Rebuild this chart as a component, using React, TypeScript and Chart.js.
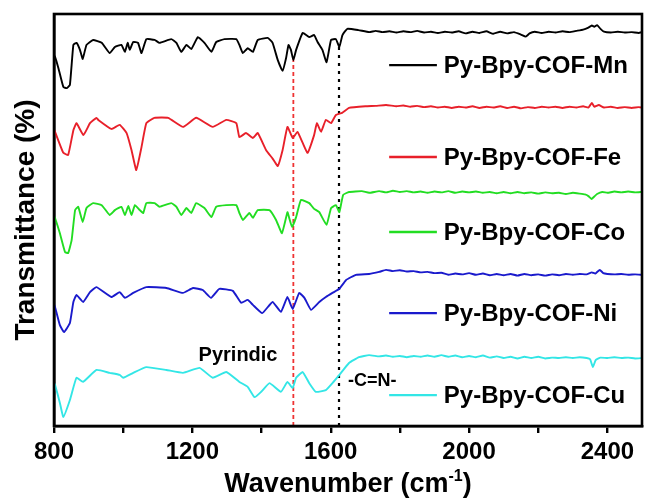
import { useEffect, useRef } from "react";
import { Chart, registerables } from "chart.js";

Chart.register(...registerables);

type Pt = [number, number];

// FTIR spectra (wavenumber in cm-1, vertically offset transmittance)
const mnSpectrum: Pt[] = [
  [800, 90.0], [803, 89.6], [812, 87.1], [827, 82.3], [837, 82.0], [846, 82.8], [856, 92.5],
  [865, 93.0], [875, 91.3], [883, 89.1], [894, 92.5], [913, 93.7], [938, 93.0], [961, 90.5],
  [976, 92.0], [995, 92.5], [1005, 90.8], [1013, 93.0], [1019, 91.3], [1029, 93.2], [1043, 93.0],
  [1053, 90.5], [1067, 93.9], [1091, 93.7], [1105, 93.0], [1139, 93.9], [1154, 93.0], [1168, 90.8],
  [1183, 92.5], [1197, 91.5], [1216, 94.4], [1235, 93.0], [1255, 90.8], [1269, 93.2], [1293, 93.9],
  [1327, 93.9], [1336, 92.5], [1346, 90.5], [1360, 91.7], [1375, 90.8], [1389, 93.7], [1418, 94.2],
  [1432, 93.0], [1447, 88.8], [1461, 86.2], [1471, 89.3], [1478, 92.5], [1485, 91.3], [1492, 88.8],
  [1500, 91.3], [1519, 95.4], [1538, 94.4], [1552, 94.9], [1562, 93.2], [1576, 91.3], [1588, 88.3],
  [1601, 93.7], [1615, 93.9], [1625, 92.0], [1634, 94.9], [1648, 96.4], [1680, 96.1], [1711, 95.6],
  [1730, 95.9], [1750, 95.6], [1770, 95.8], [1790, 95.5], [1810, 95.8], [1830, 95.6], [1850, 95.9],
  [1870, 95.5], [1890, 95.7], [1910, 95.4], [1930, 95.7], [1950, 95.5], [1970, 95.8], [1990, 95.3],
  [2010, 95.7], [2030, 95.4], [2050, 95.8], [2070, 95.2], [2090, 95.7], [2110, 95.3], [2130, 95.6],
  [2150, 95.0], [2164, 94.5], [2175, 95.3], [2190, 95.7], [2210, 95.4], [2230, 95.7], [2250, 95.5],
  [2270, 95.8], [2290, 95.6], [2310, 95.9], [2330, 96.2], [2345, 96.7], [2355, 97.2], [2362, 96.9],
  [2370, 97.3], [2380, 96.4], [2390, 95.7], [2410, 95.5], [2430, 95.7], [2450, 95.5], [2470, 95.6],
  [2490, 95.4], [2500, 95.6],
];

const feSpectrum: Pt[] = [
  [800, 72.0], [803, 71.4], [827, 66.3], [841, 65.8], [856, 71.8], [865, 73.5], [885, 70.6],
  [904, 73.5], [923, 74.8], [928, 74.3], [966, 72.1], [990, 73.1], [1010, 71.1], [1024, 67.0],
  [1038, 62.1], [1053, 67.7], [1067, 73.5], [1090, 74.8], [1130, 74.8], [1173, 72.6], [1211, 74.8],
  [1259, 72.6], [1298, 74.3], [1327, 73.5], [1336, 70.1], [1355, 71.1], [1375, 69.9], [1389, 71.1],
  [1413, 67.0], [1432, 64.9], [1447, 63.1], [1461, 67.0], [1475, 72.6], [1490, 69.9], [1504, 71.4],
  [1519, 68.7], [1533, 66.3], [1552, 70.6], [1560, 73.5], [1572, 71.4], [1586, 74.3], [1601, 73.5],
  [1615, 75.5], [1633, 76.0], [1653, 77.2], [1700, 77.6], [1730, 77.7], [1760, 77.9], [1790, 77.6],
  [1810, 77.8], [1830, 77.5], [1850, 77.7], [1870, 77.4], [1890, 77.6], [1910, 77.3], [1930, 77.5],
  [1950, 77.2], [1970, 77.5], [1990, 77.3], [2010, 77.6], [2030, 77.2], [2050, 77.5], [2070, 77.3],
  [2090, 77.6], [2110, 77.2], [2130, 77.5], [2150, 77.1], [2170, 77.4], [2190, 77.2], [2210, 77.5],
  [2230, 77.3], [2250, 77.5], [2270, 77.2], [2290, 77.5], [2310, 77.3], [2330, 77.6], [2345, 77.3],
  [2355, 78.4], [2362, 77.5], [2375, 77.9], [2390, 77.3], [2410, 77.5], [2430, 77.2], [2450, 77.4],
  [2470, 77.2], [2490, 77.4], [2500, 77.3],
];

const coSpectrum: Pt[] = [
  [800, 51.0], [803, 50.5], [817, 46.8], [832, 42.2], [841, 42.0], [851, 45.1], [861, 52.4],
  [870, 53.2], [883, 49.5], [894, 52.9], [913, 54.1], [938, 53.6], [961, 51.2], [976, 52.4],
  [995, 53.2], [1005, 51.2], [1015, 53.4], [1024, 51.2], [1034, 53.6], [1048, 52.4], [1058, 51.7],
  [1067, 54.1], [1091, 54.1], [1105, 53.2], [1139, 54.1], [1154, 53.2], [1168, 51.2], [1183, 52.9],
  [1197, 51.7], [1211, 54.1], [1235, 52.9], [1255, 50.7], [1269, 53.2], [1298, 53.6], [1327, 53.6],
  [1336, 51.7], [1346, 50.0], [1365, 51.7], [1375, 50.5], [1389, 52.4], [1423, 52.4], [1442, 50.0],
  [1459, 46.8], [1475, 51.9], [1480, 50.5], [1488, 48.3], [1500, 50.7], [1514, 54.9], [1538, 54.1],
  [1552, 52.7], [1567, 51.9], [1588, 48.8], [1601, 52.9], [1615, 53.6], [1625, 51.9], [1636, 56.1],
  [1653, 56.8], [1690, 57.0], [1711, 56.6], [1740, 57.0], [1760, 56.7], [1780, 57.1], [1800, 56.8],
  [1820, 57.0], [1840, 56.7], [1860, 56.9], [1880, 56.6], [1900, 56.9], [1920, 56.7], [1940, 57.0],
  [1960, 56.6], [1980, 56.9], [2000, 56.7], [2020, 56.9], [2040, 56.6], [2060, 56.8], [2080, 56.5],
  [2100, 56.8], [2120, 56.5], [2140, 56.8], [2160, 56.5], [2180, 56.7], [2200, 56.4], [2220, 56.7],
  [2240, 56.5], [2260, 56.6], [2280, 56.3], [2300, 56.6], [2320, 56.4], [2335, 56.2], [2345, 55.8],
  [2354, 55.1], [2362, 55.7], [2370, 56.3], [2385, 56.8], [2400, 56.6], [2420, 56.9], [2440, 56.7],
  [2460, 56.9], [2480, 56.7], [2500, 56.8],
];

const niSpectrum: Pt[] = [
  [800, 29.5], [803, 28.9], [817, 24.5], [829, 22.8], [846, 25.0], [856, 30.1], [865, 31.8],
  [884, 30.1], [904, 32.5], [923, 33.7], [966, 31.3], [990, 32.5], [1005, 31.1], [1029, 32.3],
  [1067, 33.7], [1125, 33.5], [1173, 32.3], [1202, 33.5], [1230, 33.0], [1254, 31.1], [1278, 33.3],
  [1317, 32.8], [1341, 29.9], [1360, 30.6], [1375, 29.4], [1402, 27.4], [1432, 30.1], [1456, 27.7],
  [1475, 31.3], [1490, 28.4], [1509, 32.3], [1524, 31.1], [1543, 28.2], [1567, 30.1], [1586, 31.3],
  [1605, 32.3], [1625, 33.3], [1644, 35.4], [1673, 36.7], [1711, 36.9], [1740, 37.4], [1760, 37.9],
  [1780, 37.6], [1800, 37.8], [1820, 37.5], [1840, 37.6], [1860, 37.3], [1880, 37.4], [1900, 37.1],
  [1920, 37.2], [1940, 36.7], [1960, 37.0], [1980, 36.8], [2000, 37.1], [2020, 36.7], [2040, 37.0],
  [2060, 36.6], [2080, 36.9], [2100, 36.6], [2120, 36.9], [2140, 36.5], [2160, 36.9], [2180, 36.6],
  [2200, 36.8], [2220, 36.5], [2240, 36.8], [2260, 36.6], [2280, 36.9], [2300, 36.7], [2320, 36.9],
  [2340, 36.8], [2355, 37.3], [2365, 37.0], [2378, 37.9], [2388, 37.1], [2400, 36.9], [2420, 36.8],
  [2440, 36.9], [2460, 36.7], [2480, 36.8], [2500, 36.7],
];

const cuSpectrum: Pt[] = [
  [800, 10.5], [803, 10.0], [817, 5.6], [827, 2.2], [846, 6.3], [865, 11.7], [884, 10.7],
  [923, 13.6], [961, 12.9], [990, 12.4], [1000, 11.7], [1029, 12.9], [1067, 14.3], [1125, 13.6],
  [1173, 12.9], [1221, 14.1], [1259, 11.7], [1298, 13.1], [1336, 10.7], [1360, 9.5], [1380, 7.0],
  [1399, 8.3], [1423, 10.4], [1456, 8.3], [1475, 10.7], [1490, 9.2], [1500, 11.7], [1519, 13.1],
  [1538, 10.4], [1557, 8.3], [1586, 8.7], [1605, 10.4], [1625, 12.4], [1653, 15.3], [1682, 16.7],
  [1711, 17.2], [1740, 16.9], [1760, 17.1], [1780, 16.8], [1800, 17.0], [1820, 16.7], [1840, 17.0],
  [1860, 16.8], [1880, 17.1], [1900, 16.8], [1920, 17.2], [1940, 16.8], [1960, 17.1], [1980, 16.7],
  [2000, 17.0], [2020, 16.7], [2040, 17.1], [2060, 16.6], [2080, 16.9], [2100, 16.5], [2120, 16.8],
  [2140, 16.4], [2160, 16.8], [2180, 16.5], [2200, 16.8], [2220, 16.4], [2240, 16.6], [2260, 16.5],
  [2280, 16.7], [2300, 16.5], [2320, 16.7], [2340, 16.5], [2350, 16.2], [2358, 14.3], [2366, 16.0],
  [2380, 16.6], [2400, 16.5], [2420, 16.7], [2440, 16.5], [2460, 16.6], [2480, 16.4], [2500, 16.5],
];

const seriesNames = ["Py-Bpy-COF-Mn", "Py-Bpy-COF-Fe", "Py-Bpy-COF-Co", "Py-Bpy-COF-Ni", "Py-Bpy-COF-Cu"];
const seriesData = [mnSpectrum, feSpectrum, coSpectrum, niSpectrum, cuSpectrum];
const seriesColors = ["#000000", "#e8202a", "#22dd22", "#1a1acc", "#33e6e6"];

// legend rows sit at these transmittance levels, between the traces
const legendLevels = [87.6, 65.3, 47.1, 27.4, 7.5];
const legendLineFrom = 1769;
const legendLineTo = 1907;
const legendTextAt = 1927;

// band markers: pyridine ring and imine stretch
const pyridineBand = 1492;
const imineBand = 1624;
const pyridineTop = 89.3;
const imineTop = 92.0;

const bandLabels = [
  { text: "Pyrindic", x: 1218, y: 17.2, size: 20 },
  { text: "-C=N-", x: 1650, y: 10.9, size: 18 },
];

const xMin = 800;
const xMax = 2500;
const labelledTicks = [800, 1200, 1600, 2000, 2400];

const FONT = '"Liberation Sans", Arial, sans-serif';

const framePlugin = {
  id: "frameAndText",
  afterDatasetsDraw(chart: any) {
    const { ctx, chartArea, scales } = chart;
    const xs = scales.x;
    const ys = scales.y;
    ctx.save();

    // legend rows
    seriesNames.forEach((name, i) => {
      const y = ys.getPixelForValue(legendLevels[i]);
      ctx.strokeStyle = seriesColors[i];
      ctx.lineWidth = 2.4;
      ctx.beginPath();
      ctx.moveTo(xs.getPixelForValue(legendLineFrom), y);
      ctx.lineTo(xs.getPixelForValue(legendLineTo), y);
      ctx.stroke();
      ctx.fillStyle = "#000";
      ctx.font = `bold 24px ${FONT}`;
      ctx.textAlign = "left";
      ctx.textBaseline = "middle";
      ctx.fillText(name, xs.getPixelForValue(legendTextAt), y + 1);
    });

    // band annotations
    bandLabels.forEach((b) => {
      ctx.fillStyle = "#000";
      ctx.font = `bold ${b.size}px ${FONT}`;
      ctx.textAlign = "left";
      ctx.textBaseline = "middle";
      ctx.fillText(b.text, xs.getPixelForValue(b.x), ys.getPixelForValue(b.y));
    });

    // frame
    ctx.strokeStyle = "#000";
    ctx.lineWidth = 2.6;
    ctx.strokeRect(chartArea.left, chartArea.top, chartArea.right - chartArea.left, chartArea.bottom - chartArea.top);

    // axis titles
    ctx.fillStyle = "#000";
    const mainFont = `bold 27px ${FONT}`;
    const supFont = `bold 16px ${FONT}`;
    const parts = [
      { t: "Wavenumber (cm", f: mainFont, dy: 0 },
      { t: "-1", f: supFont, dy: -11 },
      { t: ")", f: mainFont, dy: 0 },
    ];
    let total = 0;
    parts.forEach((p) => {
      ctx.font = p.f;
      total += ctx.measureText(p.t).width;
    });
    let cx = (chartArea.left + chartArea.right) / 2 - total / 2;
    const baseY = 492;
    ctx.textAlign = "left";
    ctx.textBaseline = "alphabetic";
    parts.forEach((p) => {
      ctx.font = p.f;
      ctx.fillText(p.t, cx, baseY + p.dy);
      cx += ctx.measureText(p.t).width;
    });

    ctx.translate(26, (chartArea.top + chartArea.bottom) / 2);
    ctx.rotate(-Math.PI / 2);
    ctx.font = `bold 28px ${FONT}`;
    ctx.textAlign = "center";
    ctx.textBaseline = "middle";
    ctx.fillText("Transmittance (%)", 0, 0);
    ctx.restore();
  },
};

export default function App() {
  const canvasRef = useRef<HTMLCanvasElement | null>(null);

  useEffect(() => {
    const canvas = canvasRef.current;
    if (!canvas) return;

    const spectra = seriesData.map((pts, i) => ({
      label: seriesNames[i],
      data: pts.map(([x, y]) => ({ x, y })),
      borderColor: seriesColors[i],
      borderWidth: 1.9,
      pointRadius: 0,
      tension: 0.12,
      fill: false,
    }));

    const markers = [
      {
        label: "pyridine",
        data: [{ x: pyridineBand, y: 0 }, { x: pyridineBand, y: pyridineTop }],
        borderColor: "#ee3333",
        borderWidth: 1.8,
        borderDash: [4, 3],
        pointRadius: 0,
        fill: false,
      },
      {
        label: "imine",
        data: [{ x: imineBand, y: 0 }, { x: imineBand, y: imineTop }],
        borderColor: "#000000",
        borderWidth: 2.2,
        borderDash: [3, 5],
        pointRadius: 0,
        fill: false,
      },
    ];

    const chart = new Chart(canvas, {
      type: "line",
      data: { datasets: [...spectra, ...markers] as any },
      options: {
        responsive: false,
        animation: false,
        events: [],
        layout: { padding: { top: 14, right: 3, left: 0, bottom: 0 } },
        plugins: { legend: { display: false }, tooltip: { enabled: false } },
        scales: {
          x: {
            type: "linear",
            min: xMin,
            max: xMax,
            afterFit: (s: any) => {
              s.height = 73;
            },
            ticks: {
              stepSize: 200,
              includeBounds: false,
              autoSkip: false,
              maxRotation: 0,
              padding: 5,
              color: "#000",
              font: { family: FONT, size: 24, weight: "bold" },
              callback: (v: any) => (labelledTicks.includes(Number(v)) ? String(v) : ""),
            },
            grid: {
              drawOnChartArea: false,
              drawTicks: true,
              tickLength: 7,
              color: "#000",
              lineWidth: 2.4,
            },
            border: { display: true, color: "#000", width: 2.6 },
          },
          y: {
            type: "linear",
            min: 0,
            max: 100,
            afterFit: (s: any) => {
              s.width = 54;
            },
            ticks: { display: false },
            grid: { display: false },
            border: { display: true, color: "#000", width: 2.6 },
          },
        },
      },
      plugins: [framePlugin],
    });

    return () => chart.destroy();
  }, []);

  return (
    <div style={{ position: "fixed", left: 0, top: 0, width: 645, height: 499, background: "#fff" }}>
      <canvas ref={canvasRef} width={645} height={499} />
    </div>
  );
}
